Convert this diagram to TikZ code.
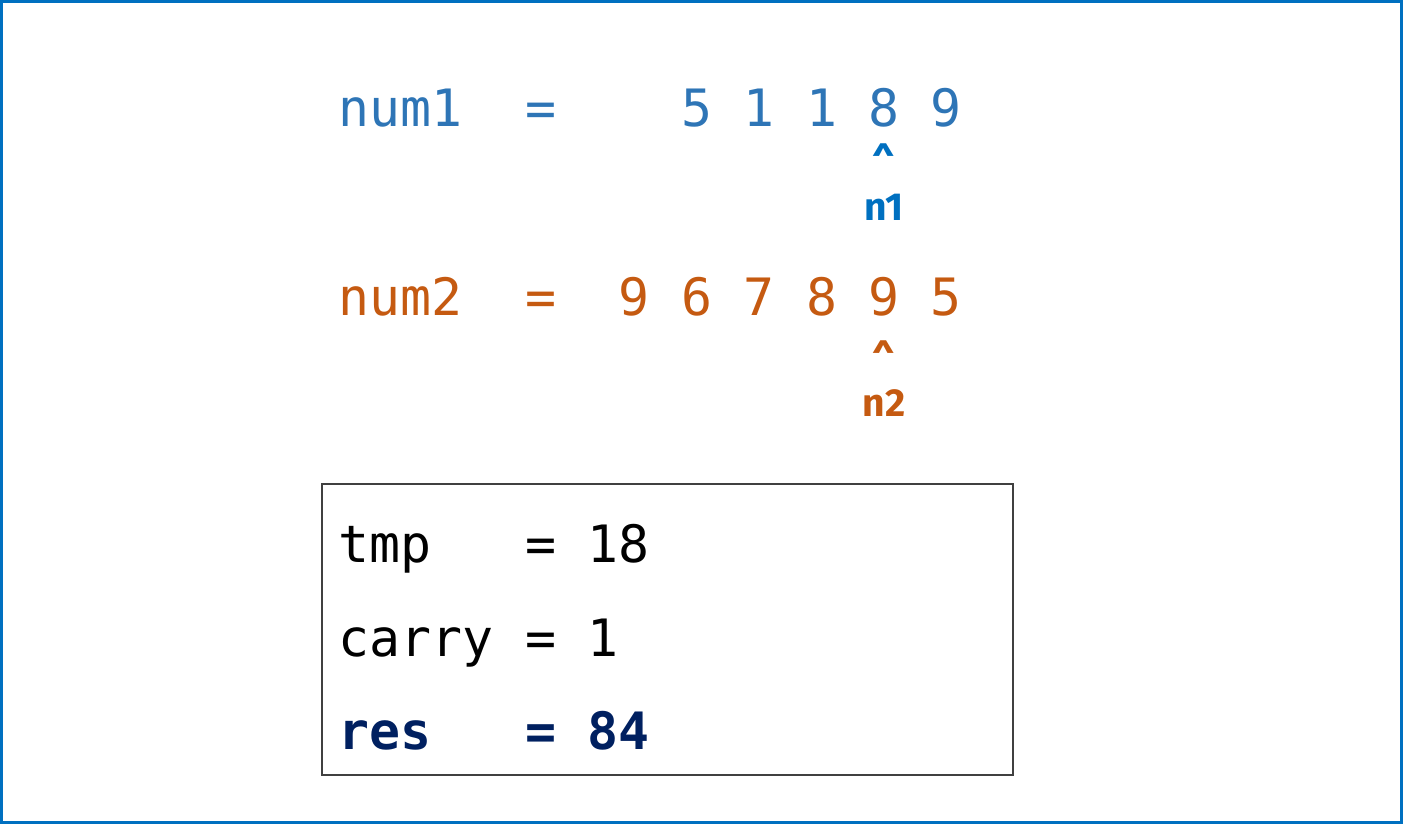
\documentclass[tikz,border=0pt]{standalone}
\usepackage{fontspec}
\usetikzlibrary{positioning}
\newfontfamily\codefont{DejaVu Sans Mono}
\newfontfamily\labelfont{Fira Sans}
\definecolor{numblue}{HTML}{2E75B6}
\definecolor{ptrblue}{HTML}{0070C0}
\definecolor{numorange}{HTML}{C55A11}
\definecolor{resnavy}{HTML}{002060}
\definecolor{boxgray}{HTML}{404040}
\tikzset{
  code/.style={font=\codefont\fontsize{51.5}{60}\selectfont, inner sep=0pt, anchor=base},
  caret/.style={font=\labelfont\bfseries\fontsize{40}{46}\selectfont, inner sep=0pt, anchor=base},
  ptrlabel/.style={font=\labelfont\bfseries\fontsize{39}{46}\selectfont, inner sep=0pt, anchor=base},
}
\begin{document}
\begin{tikzpicture}[x=1pt,y=-1pt]
\useasboundingbox (0,0) rectangle (1403,824);
\draw[ptrblue,line width=3pt] (1.5,1.5) rectangle (1401.5,822.5);

% first number
\begin{scope}[every node/.style={code,text=numblue}]
    \node[anchor=base west] (numA) at (338,127) {num1};
    \node (eqA) at ({338+6.5*31.2},127) {=};
    \foreach \d [count=\i] in {5,1,1,8,9}
        \node (a\i) at ({338+(9.5+2*\i)*31.2},127) {\d};
\end{scope}
\node[caret,text=ptrblue,yshift=-50pt] (pA) at (a4.base) {\textasciicircum};
\node[ptrlabel,text=ptrblue,yshift=-93pt] (nA) at (a4.base) {n1};

% second number
\begin{scope}[every node/.style={code,text=numorange}]
    \node[anchor=base west] (numB) at (338,315) {num2};
    \node (eqB) at ({338+6.5*31.2},315) {=};
    \foreach \d [count=\i] in {9,6,7,8,9,5}
        \node (b\i) at ({338+(7.5+2*\i)*31.2},315) {\d};
\end{scope}
\node[caret,text=numorange,yshift=-59pt] (pB) at (b5.base) {\textasciicircum};
\node[ptrlabel,text=numorange,yshift=-101pt] (nB) at (b5.base) {n2};

% state box
\draw[boxgray,line width=2pt] (322,484) rectangle (1013,775);
\begin{scope}[every node/.style={code,text=black}]
    \node[anchor=base west] (tmp) at (338,562) {tmp};
    \node (eqT) at ({338+6.5*31.2},562) {=};
    \node[anchor=base west] (tmpV) at ({338+8*31.2},562) {18};
    \node[anchor=base west] (carry) at (338,656) {carry};
    \node (eqC) at ({338+6.5*31.2},656) {=};
    \node[anchor=base west] (carryV) at ({338+8*31.2},656) {1};
\end{scope}
\begin{scope}[every node/.style={code,text=resnavy,font=\codefont\bfseries\fontsize{51.5}{60}\selectfont}]
    \node[anchor=base west] (res) at (338,749) {res};
    \node (eqR) at ({338+6.5*31.2},749) {=};
    \node[anchor=base west] (resV) at ({338+8*31.2},749) {84};
\end{scope}
\end{tikzpicture}
\end{document}
